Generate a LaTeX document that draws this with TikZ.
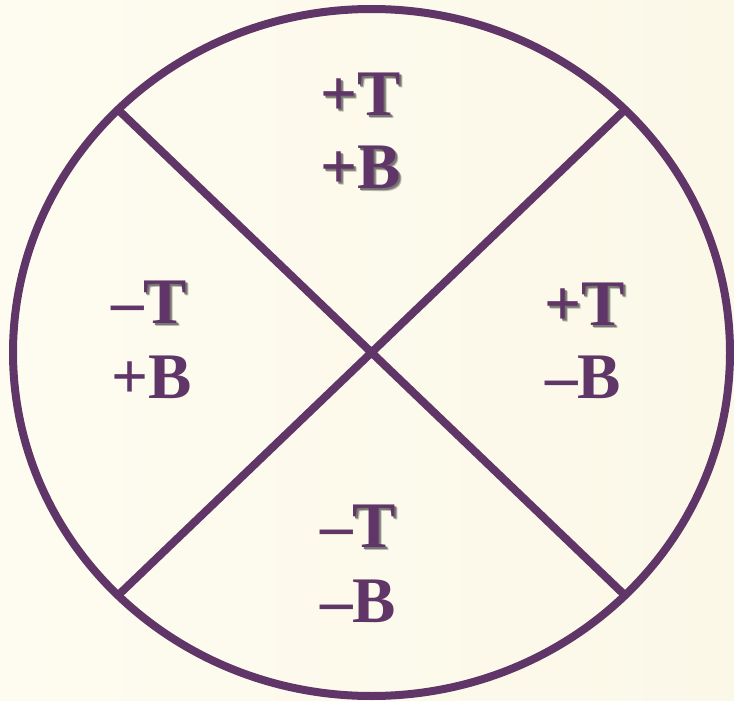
\documentclass[tikz,border=0pt]{standalone}
\usepackage{fontspec}
\setmainfont{Liberation Serif}
\definecolor{plum}{RGB}{95,54,103}
\definecolor{creamL}{RGB}{254,252,240}
\definecolor{creamR}{RGB}{251,248,232}
\definecolor{shadeA}{RGB}{190,188,178}
\definecolor{shadeB}{RGB}{120,118,112}
\newcommand\mysh[1]{\rlap{\kern3pt\raisebox{-3pt}{\textcolor{shadeA}{#1}}}\rlap{\kern2pt\raisebox{-2pt}{\textcolor{shadeB}{#1}}}#1}
\begin{document}
\begin{tikzpicture}[x=1pt,y=-1pt,
  lab/.style={anchor=base west,inner sep=0pt,text=plum,font=\fontsize{65}{78}\selectfont\bfseries},
  rim/.style={draw=plum,line width=8pt}]
\useasboundingbox (0,0) rectangle (734,701);
\shade[left color=creamL,right color=creamR] (0,0) rectangle (734,701);
\coordinate (c) at (371.5,352.5);
\coordinate (ul) at (118,109.6);
\coordinate (ur) at (625,109.6);
\coordinate (ll) at (118,595.4);
\coordinate (lr) at (625,595.4);
\draw[rim] (c) ellipse [x radius=358.5,y radius=343.5];
\draw[rim] (ul) -- (lr);
\draw[rim] (ur) -- (ll);
\node[lab] (t1) at (320,115) {\mysh{+T}};
\node[lab] (t2) at (320,188) {\mysh{+B}};
\node[lab] (t3) at (111,323) {–\mysh{T}};
\node[lab] (t4) at (111,398) {+B};
\node[lab] (t5) at (544,325) {\mysh{+T}};
\node[lab] (t6) at (545,398) {–B};
\node[lab] (t7) at (320,547) {–\mysh{T}};
\node[lab] (t8) at (320,622) {–B};
\end{tikzpicture}
\end{document}
